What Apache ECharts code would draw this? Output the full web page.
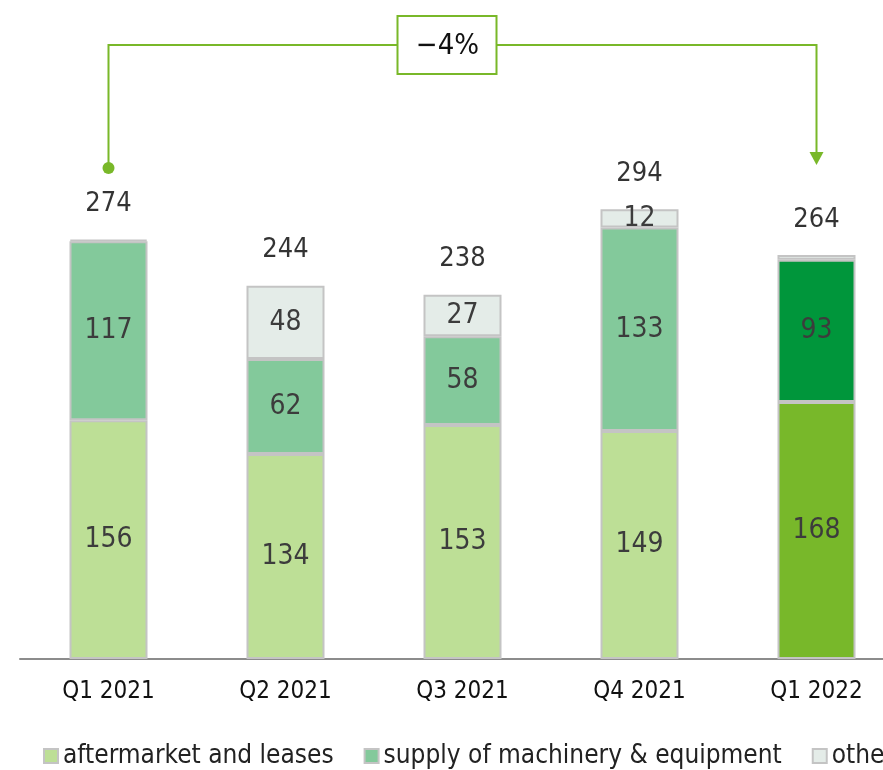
<!DOCTYPE html>
<html><head><meta charset="utf-8">
<script src="https://cdn.jsdelivr.net/npm/echarts@6/dist/echarts.min.js"></script>
<style>html,body{margin:0;padding:0;background:#fff}#c{width:883px;height:770px}</style>
</head><body><div id="c"></div>
<script>
const categories = ['Q1 2021','Q2 2021','Q3 2021','Q4 2021','Q1 2022'];
const aftermarket = [156,134,153,149,168];
const supply = [117,62,58,133,93];
const other = [1,48,27,12,3];
const totals = [274,244,238,294,264];
const changeLabel = '\u22124%';
const seriesNames = ['aftermarket and leases','supply of machinery & equipment','other'];

const FONT = '"Liberation Sans Narrow","DejaVu Sans Condensed",sans-serif';
const lastIdx = categories.length - 1;
function colored(arr, base, hi){
  return arr.map((v,i)=>({value:v, itemStyle:{color: i===lastIdx ? hi : base}}));
}
const inLabel = {show:true, position:'inside', color:'#3c3c3c', fontFamily:FONT, fontSize:28,
  formatter:p=> p.value>=10 ? String(p.value) : ''};
const border = {borderColor:'#c4c4c4', borderWidth:2};

const chart = echarts.init(document.getElementById('c'));
chart.setOption({
  animation:false,
  grid:{left:20, right:-22, top:200, bottom:111, containLabel:false, outerBoundsMode:'none'},
  legend:{left:38, bottom:-4, width:1200, itemWidth:14, itemHeight:14, itemGap:30, icon:'rect',
    textStyle:{fontFamily:FONT, fontSize:26, color:'#222'},
    data:seriesNames},
  xAxis:{type:'category', data:categories,
    axisLine:{lineStyle:{color:'#8c8c8c', width:2}}, axisTick:{show:false},
    axisLabel:{fontFamily:FONT, fontSize:24, color:'#111', margin:21}},
  yAxis:{type:'value', min:0, max:300, show:false, splitLine:{show:false}},
  series:[
    {name:seriesNames[0], type:'bar', stack:'s', barWidth:78,
      itemStyle:Object.assign({color:'#bddf96'},border), label:inLabel,
      data:colored(aftermarket,'#bddf96','#78b82a')},
    {name:seriesNames[1], type:'bar', stack:'s', barWidth:78,
      itemStyle:Object.assign({color:'#83c99b'},border), label:inLabel,
      data:colored(supply,'#83c99b','#00963b')},
    {name:seriesNames[2], type:'bar', stack:'s', barWidth:78,
      itemStyle:Object.assign({color:'#e4ece8'},border), label:inLabel,
      data:other},
    {name:'total', type:'scatter', symbolSize:0, data:totals,
      label:{show:true, position:'top', distance:22, color:'#000', fontFamily:FONT, fontSize:27,
        formatter:p=>String(p.value)}, silent:true}
  ]
});

const p0 = chart.convertToPixel({gridIndex:0}, [0, 0]);
const p1 = chart.convertToPixel({gridIndex:0}, [lastIdx, 0]);
const x0 = p0[0], x1 = p1[0], yTop = 45, yEnd = 168, g = '#79b829';
const mid = (x0+x1)/2 - 15;
chart.setOption({graphic:[
  {type:'polyline', shape:{points:[[x0,yEnd],[x0,yTop],[x1,yTop],[x1,yEnd-14]]}, style:{stroke:g, lineWidth:2, fill:null}},
  {type:'circle', shape:{cx:x0, cy:yEnd, r:6}, style:{fill:g}},
  {type:'polygon', shape:{points:[[x1-7,yEnd-16],[x1+7,yEnd-16],[x1,yEnd-3]]}, style:{fill:g}},
  {type:'rect', shape:{x:mid-50, y:16, width:99, height:58}, style:{fill:'#fff', stroke:g, lineWidth:2}},
  {type:'text', x:mid, y:46, style:{text:changeLabel, font:'29px '+FONT, fill:'#111', align:'center', verticalAlign:'middle'}}
]});
</script></body></html>
